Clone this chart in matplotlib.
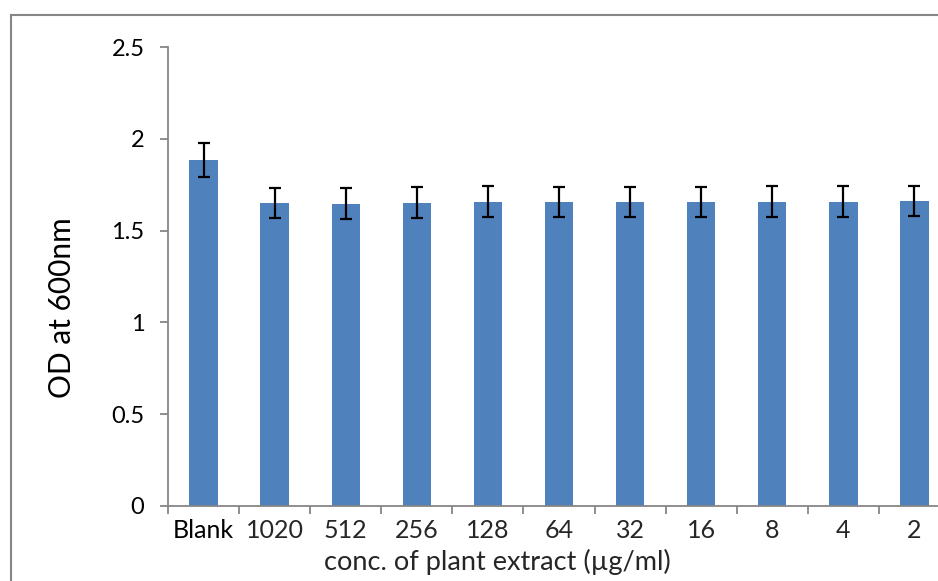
import matplotlib
matplotlib.use("Agg")
import matplotlib.pyplot as plt
from matplotlib.lines import Line2D
import numpy as np

# data
categories = ["Blank", "1020", "512", "256", "128", "64", "32", "16", "8", "4", "2"]
od_values = [1.885, 1.650, 1.647, 1.652, 1.657, 1.655, 1.655, 1.655, 1.657, 1.658, 1.660]
od_errors = [0.094, 0.083, 0.083, 0.083, 0.084, 0.083, 0.083, 0.083, 0.084, 0.084, 0.083]
y_ticks = [0, 0.5, 1, 1.5, 2, 2.5]
y_tick_labels = ["0", "0.5", "1", "1.5", "2", "2.5"]

W, H = 938, 581
bar_color = "#4F81BD"
axis_gray = "#868686"
plt.rcParams["font.family"] = ["Lato", "DejaVu Sans"]

fig = plt.figure(figsize=(W / 100, H / 100), dpi=100)
# plot area runs past the right edge of the picture, like the original crop
ax = fig.add_axes([168 / W, 75 / H, 782 / W, 459 / H])

x = np.arange(len(categories))
ax.bar(x, od_values, width=0.4, color=bar_color, zorder=2)
ax.errorbar(x, od_values, yerr=od_errors, fmt="none", ecolor="black",
            elinewidth=1.6, capsize=4.5, capthick=1.6, zorder=3)

ax.set_xlim(-0.5, len(categories) - 0.5)
ax.set_ylim(0, 2.5)

ax.set_yticks(y_ticks)
ax.set_yticklabels(y_tick_labels, fontsize=17, color="black")
ax.tick_params(axis="y", length=6, width=1.3, color=axis_gray, pad=11)

# labels at the centres, tick marks at the category boundaries
ax.set_xticks(x)
ax.set_xticklabels(categories, fontsize=18, color="#262626")
ax.get_xticklabels()[0].set_color("black")
ax.tick_params(axis="x", which="major", length=0, pad=9)
ax.set_xticks(np.arange(len(categories) + 1) - 0.5, minor=True)
ax.tick_params(axis="x", which="minor", length=6, width=1.3, color=axis_gray)

for side in ["top", "right"]:
    ax.spines[side].set_visible(False)
for side in ["left", "bottom"]:
    ax.spines[side].set_color(axis_gray)
    ax.spines[side].set_linewidth(1.3)

fig.text(62 / W, 1 - 308 / H, "OD at 600nm", rotation=90, fontsize=21.5,
         ha="center", va="center")
fig.text(497 / W, 1 - 562 / H, "conc. of plant extract (\u00b5g/ml)", fontsize=19.5,
         ha="center", va="center", color="#262626")

# outer chart frame (only top and left visible in the crop)
fig.add_artist(Line2D([11 / W, 1], [1 - 15 / H, 1 - 15 / H], color=axis_gray, lw=1.5))
fig.add_artist(Line2D([11 / W, 11 / W], [0, 1 - 15 / H], color=axis_gray, lw=1.5))

fig.savefig("out.png", dpi=100)
